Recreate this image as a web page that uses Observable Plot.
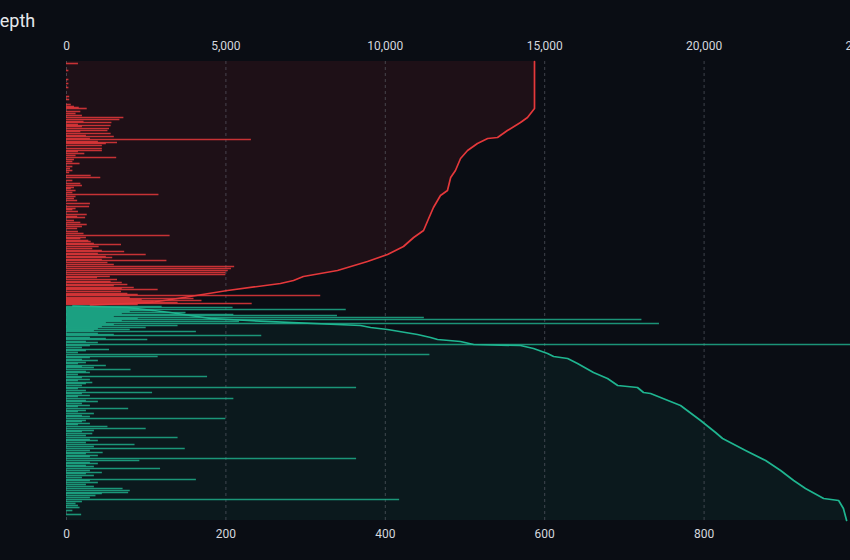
<!DOCTYPE html>
<html><head><meta charset="utf-8">
<script src="https://cdn.jsdelivr.net/npm/d3@7"></script>
<script src="https://cdn.jsdelivr.net/npm/@observablehq/plot@0.6"></script>
<style>
html,body{margin:0;padding:0;background:#0a0d14;overflow:hidden;width:850px;height:560px}
#title{position:relative;left:-12px;height:18px;padding-top:12px;font:400 18px Roboto, sans-serif;line-height:18px;color:#e6e8ec;white-space:nowrap}
</style></head><body>
<div id="title">Depth</div>
<div id="chart"></div>
<script>
// ask levels: [price, size]
const asks = [[102.42,15],[102.35,3],[102.26,3],[102.22,3],[102.18,3],[102.09,4],[102.06,4],[102.01,6],[101.99,10],[101.98,16],[101.97,26],[101.94,18],[101.92,12],[101.90,20],[101.88,72],[101.86,67],[101.84,22],[101.83,57],[101.81,15],[101.80,56],[101.79,20],[101.77,54],[101.75,52],[101.74,18],[101.72,56],[101.70,25],[101.69,60],[101.67,30],[101.66,232],[101.64,40],[101.63,64],[101.62,50],[101.60,45],[101.57,45],[101.55,45],[101.54,15],[101.52,23],[101.50,12],[101.48,63],[101.46,10],[101.44,8],[101.42,17],[101.39,8],[101.37,5],[101.35,8],[101.33,4],[101.30,31],[101.28,43],[101.25,8],[101.22,18],[101.20,20],[101.18,10],[101.17,6],[101.15,12],[101.13,8],[101.11,116],[101.09,12],[101.07,10],[101.05,14],[101.02,30],[100.99,29],[100.97,12],[100.96,8],[100.94,15],[100.91,26],[100.89,14],[100.88,24],[100.85,10],[100.83,18],[100.81,26],[100.79,20],[100.77,14],[100.74,15],[100.72,22],[100.70,130],[100.68,25],[100.67,18],[100.65,28],[100.64,31],[100.62,35],[100.61,69],[100.59,41],[100.57,33],[100.55,45],[100.54,73],[100.52,40],[100.51,100],[100.49,50],[100.48,58],[100.46,45],[100.45,126],[100.43,52],[100.41,60],[100.39,211],[100.37,207],[100.35,203],[100.33,200],[100.31,200],[100.29,55],[100.28,39],[100.26,64],[100.24,56],[100.23,70],[100.21,77],[100.20,60],[100.18,85],[100.17,70],[100.16,115],[100.14,69],[100.12,77],[100.11,90],[100.10,319],[100.08,80],[100.07,160],[100.06,95],[100.05,170],[100.04,110],[100.03,140],[100.02,233],[100.01,90]];

// bid levels: [price, size]
const bids = [[99.99,120],[99.98,209],[99.97,90],[99.96,351],[99.95,110],[99.94,80],[99.93,150],[99.92,70],[99.91,210],[99.90,340],[99.89,60],[99.88,449],[99.87,90],[99.86,722],[99.85,70],[99.84,217],[99.83,50],[99.82,744],[99.81,60],[99.80,140],[99.79,45],[99.78,100],[99.77,40],[99.76,80],[99.75,35],[99.74,163],[99.72,40],[99.71,60],[99.70,245],[99.68,30],[99.67,50],[99.66,102],[99.64,25],[99.63,40],[99.61,1880],[99.60,30],[99.58,20],[99.56,54],[99.55,25],[99.53,15],[99.51,456],[99.49,115],[99.48,30],[99.46,20],[99.45,40],[99.43,25],[99.42,15],[99.40,50],[99.39,20],[99.38,35],[99.36,81],[99.34,25],[99.33,30],[99.31,15],[99.29,177],[99.28,20],[99.26,30],[99.25,15],[99.23,33],[99.22,25],[99.20,20],[99.18,364],[99.17,15],[99.15,25],[99.13,108],[99.12,20],[99.10,30],[99.09,15],[99.07,210],[99.05,25],[99.04,40],[99.02,20],[99.00,30],[98.99,15],[98.97,78],[98.95,25],[98.94,15],[98.92,35],[98.90,20],[98.89,30],[98.87,200],[98.85,25],[98.84,20],[98.82,30],[98.81,15],[98.79,52],[98.77,100],[98.75,35],[98.74,20],[98.72,33],[98.70,25],[98.68,140],[98.66,30],[98.65,40],[98.63,25],[98.61,86],[98.59,35],[98.57,149],[98.55,30],[98.53,46],[98.52,25],[98.50,40],[98.49,30],[98.47,364],[98.45,92],[98.43,30],[98.42,40],[98.40,25],[98.39,35],[98.37,118],[98.35,30],[98.33,45],[98.32,25],[98.30,35],[98.28,20],[98.26,163],[98.25,30],[98.23,40],[98.21,25],[98.19,35],[98.17,71],[98.15,80],[98.13,78],[98.12,45],[98.10,37],[98.08,30],[98.06,418],[98.04,20],[98.02,12],[98.00,15],[97.98,17],[97.95,8],[97.91,19]];

// cumulative depth: [price, cumulative size]
const askDepth = [[100.005,750],[100.03,2640],[100.07,3480],[100.15,5050],[100.22,6710],[100.25,7120],[100.29,7430],[100.35,8500],[100.44,9440],[100.51,10070],[100.59,10570],[100.68,10890],[100.75,11200],[100.87,11360],[100.98,11510],[101.10,11730],[101.15,11950],[101.28,12050],[101.35,12200],[101.47,12360],[101.55,12580],[101.62,12890],[101.67,13210],[101.68,13520],[101.75,13830],[101.83,14240],[101.88,14460],[101.97,14680],[102.44,14680]];
const bidDepth = [[99.995,200],[99.98,1910],[99.93,3260],[99.87,4520],[99.85,5680],[99.80,9220],[99.78,9540],[99.76,10070],[99.71,11010],[99.68,11420],[99.66,11640],[99.64,12360],[99.61,12770],[99.60,14240],[99.57,14650],[99.52,15090],[99.49,15280],[99.47,15720],[99.42,16030],[99.33,16530],[99.27,16970],[99.20,17290],[99.18,17910],[99.13,18100],[99.12,18320],[99.00,19260],[98.85,19890],[98.73,20360],[98.67,20580],[98.55,21300],[98.45,21930],[98.35,22400],[98.25,22810],[98.17,23180],[98.07,23750],[98.05,24220],[97.97,24370],[97.85,24470]];

const sizeTicks = [0, 200, 400, 600, 800, 1000];
const depthPerSize = 25; // top axis: cumulative depth = 25 × bottom size units
const priceDomain = [97.85, 102.44];

const RED = "#e5383b", GREEN = "#1fb590";
const bg = "#0a0d14";
const fmt = d3.format(",");
const dx = d => d[1] / depthPerSize;

const chart = Plot.plot({
  width: 900, height: 530,
  marginLeft: 66, marginRight: 37, marginTop: 31, marginBottom: 40,
  style: {background: bg, maxWidth: "none", overflow: "visible", fontFamily: "Roboto, sans-serif"},
  x: {domain: [0, 1000], axis: null},
  y: {domain: priceDomain, axis: null},
  marks: [
    Plot.areaX(askDepth, {y: d => d[0], x: dx, fill: RED, fillOpacity: 0.09}),
    Plot.areaX(bidDepth, {y: d => d[0], x: dx, fill: GREEN, fillOpacity: 0.075}),
    Plot.gridX(sizeTicks, {stroke: "#6a6e78", strokeOpacity: 0.55, strokeDasharray: "3,3", strokeWidth: 1}),
    Plot.ruleY(asks, {y: d => d[0], x1: 0, x2: d => d[1], stroke: RED, strokeWidth: 1.6, strokeOpacity: 0.85, clip: true}),
    Plot.ruleY(bids, {y: d => d[0], x1: 0, x2: d => d[1], stroke: GREEN, strokeWidth: 1.6, strokeOpacity: 0.8, clip: true}),
    Plot.lineX(askDepth, {y: d => d[0], x: dx, stroke: RED, strokeWidth: 1.7}),
    Plot.lineX(bidDepth, {y: d => d[0], x: dx, stroke: GREEN, strokeWidth: 1.7}),
    Plot.axisX(sizeTicks, {anchor: "bottom", tickSize: 0, tickPadding: 9, tickFormat: d => String(d), fill: "#d4d7de", fontSize: 12, label: null}),
    Plot.axisX(sizeTicks, {anchor: "top", tickSize: 0, tickPadding: 12, tickFormat: d => fmt(d * depthPerSize), fill: "#d4d7de", fontSize: 12, label: null})
  ]
});
document.getElementById("chart").appendChild(chart);
</script>
</body></html>
